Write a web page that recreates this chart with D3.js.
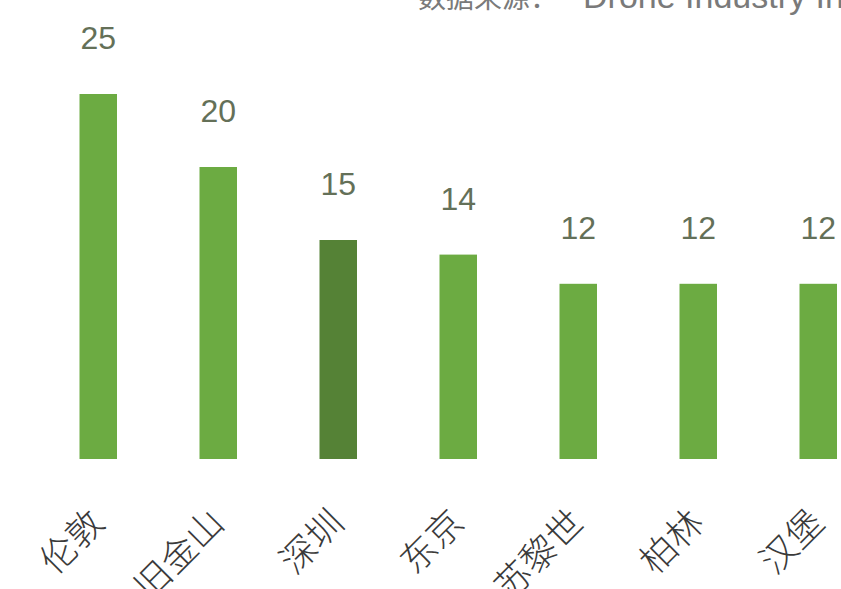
<!DOCTYPE html>
<html><head><meta charset="utf-8">
<script src="https://cdn.jsdelivr.net/npm/d3@7"></script>
<style>body{margin:0;background:#fff;overflow:hidden}svg{display:block}</style>
</head><body>
<svg id="c" width="841" height="589"></svg>
<script>
const cities = ["伦敦","旧金山","深圳","东京","苏黎世","柏林","汉堡"];
const values = [25,20,15,14,12,12,12];
const highlight = ["深圳"];
const sourceLabel = "数据来源：";
const sourceName = "Drone Industry Insights";

const svg = d3.select("#c");
const x = d3.scaleBand().domain(cities).range([38.25, 878.25]).paddingInner(0.6875).paddingOuter(0.34375);
const y = d3.scaleLinear().domain([0,25]).range([459,94]);

const src = svg.append("text").attr("y",8).attr("fill","#7a7a7a");
src.append("tspan").attr("x",418).attr("font-family","'Noto Sans CJK SC',sans-serif").attr("font-size",28).text(sourceLabel);
src.append("tspan").attr("x",583).attr("font-family","'Liberation Sans',Arial,sans-serif").attr("font-size",34).text(sourceName);

svg.selectAll("rect.bar").data(cities).join("rect").attr("class","bar")
  .attr("x",d=>x(d)).attr("width",x.bandwidth())
  .attr("y",(d,i)=>y(values[i])).attr("height",(d,i)=>y(0)-y(values[i]))
  .attr("fill",d=>highlight.includes(d)?"#558236":"#6cab42");

svg.selectAll("text.val").data(cities).join("text").attr("class","val")
  .attr("x",d=>x(d)+x.bandwidth()/2).attr("y",(d,i)=>y(values[i])-45)
  .attr("text-anchor","middle").attr("font-family","'Liberation Sans',Arial,sans-serif")
  .attr("font-size",32).attr("fill","#647058").text((d,i)=>values[i]);

const axis = d3.axisBottom(x).tickSize(0).tickPadding(0);
const g = svg.append("g").attr("transform","translate(0,459)").call(axis);
g.select(".domain").remove();
g.selectAll(".tick text")
  .attr("font-family","'Noto Sans CJK SC',sans-serif").attr("font-size",36).attr("font-weight",300).attr("fill","#3a3a3a")
  .attr("text-anchor","end").attr("dy",0).attr("y",0)
  .attr("transform","translate(8,66) rotate(-45)");
</script>
</body></html>
